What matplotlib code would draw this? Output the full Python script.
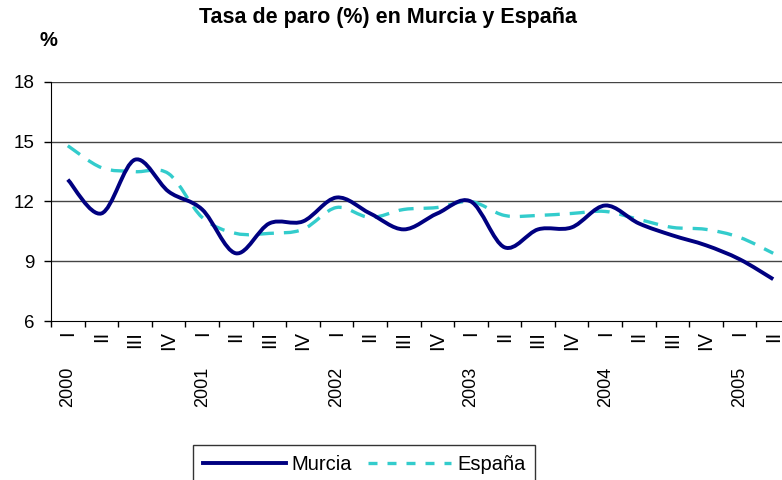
import matplotlib
matplotlib.use("Agg")
import matplotlib.pyplot as plt
import numpy as np
from matplotlib.lines import Line2D
from matplotlib.path import Path
from matplotlib.patches import PathPatch

plt.rcParams['font.family'] = ['Liberation Sans', 'DejaVu Sans']

# trimestres 2000-I .. 2005-II
quarters = ["I", "II", "III", "IV"] * 5 + ["I", "II"]
years = ["2000", "2001", "2002", "2003", "2004", "2005"]
murcia = [13.1, 11.4, 14.1, 12.5, 11.6, 9.4, 10.9, 11.0, 12.2, 11.4, 10.6,
          11.4, 12.0, 9.7, 10.6, 10.7, 11.8, 10.9, 10.3, 9.8, 9.1, 8.1]
espana = [14.8, 13.7, 13.5, 13.4, 11.2, 10.4, 10.4, 10.6, 11.7, 11.2, 11.6,
          11.7, 12.0, 11.3, 11.3, 11.4, 11.5, 11.1, 10.7, 10.6, 10.2, 9.4]


def smooth_path(x, y):
    # curva de Bezier tipo "linea suavizada" de Excel
    pts = np.column_stack([x, y]).astype(float)
    verts = [pts[0]]
    codes = [Path.MOVETO]
    n = len(pts)
    for i in range(n - 1):
        p0 = pts[i - 1] if i > 0 else pts[i]
        p1, p2 = pts[i], pts[i + 1]
        p3 = pts[i + 2] if i + 2 < n else pts[i + 1]
        c1 = p1 + (p2 - p0) / 6.0
        c2 = p2 - (p3 - p1) / 6.0
        verts += [c1, c2, p2]
        codes += [Path.CURVE4] * 3
    return Path(verts, codes)


fig = plt.figure(figsize=(7.82, 4.80), dpi=100)
ax = fig.add_axes([51 / 782, 1 - 321 / 480, (790 - 51) / 782, (321 - 82) / 480])

x = np.arange(len(quarters))
c_murcia = "#000080"
c_espana = "#33CCCC"

ax.add_patch(PathPatch(smooth_path(x, espana), fill=False, edgecolor=c_espana,
                       lw=2.4, linestyle=(0, (4.5, 3)), capstyle='butt', zorder=3))
ax.add_patch(PathPatch(smooth_path(x, murcia), fill=False, edgecolor=c_murcia,
                       lw=2.8, zorder=4, joinstyle='round'))

ax.set_xlim(-0.5, len(quarters) - 0.5)
ax.set_ylim(6, 18)
ax.set_yticks([6, 9, 12, 15, 18])
for v in [9, 12, 15, 18]:
    ax.axhline(v, color="#444444", lw=1.0, zorder=1)

ax.spines['top'].set_visible(False)
ax.spines['right'].set_visible(False)
ax.spines['left'].set_color('black')
ax.spines['bottom'].set_color('black')

ax.tick_params(axis='y', length=5, width=1, pad=7, labelsize=13.5)
ax.set_xticks(np.arange(len(quarters) + 1) - 0.5)
ax.set_xticklabels([])
ax.tick_params(axis='x', which='major', length=4, width=1, direction='out')
ax.set_xticks(x, minor=True)
ax.set_xticklabels(quarters, minor=True, rotation=90, fontsize=14.5)
ax.tick_params(axis='x', which='minor', length=0, pad=7)

for i, yr in enumerate(years):
    ax.annotate(yr, xy=(i * 4, 0), xycoords=('data', 'axes fraction'),
                xytext=(0, -33), textcoords='offset points', rotation=90,
                ha='center', va='top', fontsize=13)

fig.text(0.496, 1 - 18 / 480, "Tasa de paro (%) en Murcia y España",
         ha='center', va='center', fontsize=15.5, fontweight='bold')
fig.text(48 / 782, 1 - 41 / 480, "%", ha='center', va='center',
         fontsize=14.5, fontweight='bold')

handles = [Line2D([], [], color=c_murcia, lw=2.8),
           Line2D([], [], color=c_espana, lw=2.4, linestyle=(0, (2.7, 3.0)))]
leg = fig.legend(handles, ["Murcia", "España"], loc='upper left',
                 bbox_to_anchor=(193 / 782, 1 - 445 / 480), ncol=2,
                 fontsize=14.5, frameon=True, fancybox=False, borderaxespad=0,
                 handlelength=4.1, handletextpad=0.3, columnspacing=0.8,
                 borderpad=0.5)
leg.get_frame().set_edgecolor('black')
leg.get_frame().set_linewidth(1.0)

fig.savefig("out.png", dpi=100)
